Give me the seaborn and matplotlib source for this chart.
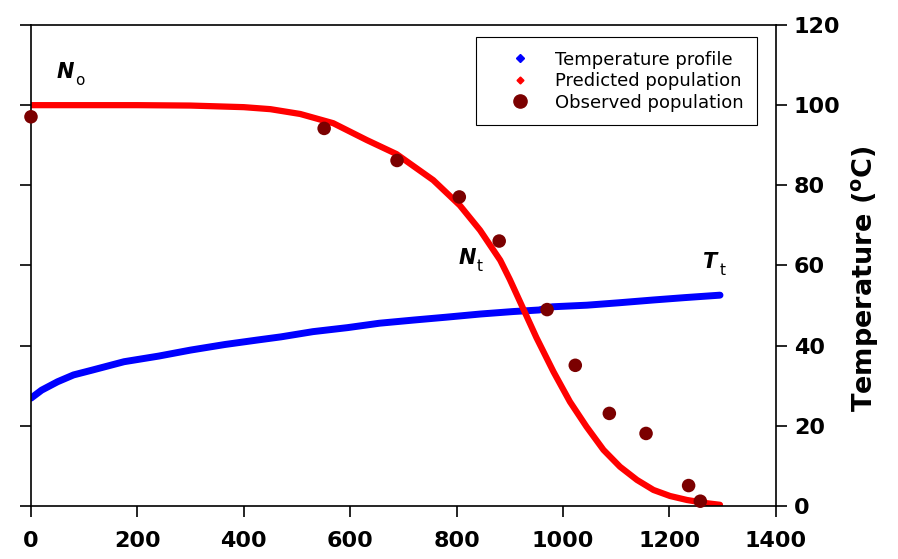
import matplotlib
matplotlib.use("Agg")
import matplotlib.pyplot as plt
from matplotlib.lines import Line2D
import seaborn as sns
import pandas as pd

# ---- data ----
time_temp = [0, 20, 50, 80, 115, 175, 240, 300, 365, 425, 470, 530, 595, 655,
             720, 780, 845, 905, 955, 980, 1045, 1105, 1170, 1230, 1295]
temperature = [26.9, 28.9, 31.0, 32.7, 33.9, 36.0, 37.4, 38.9, 40.3, 41.4, 42.2,
               43.5, 44.5, 45.6, 46.4, 47.1, 47.9, 48.5, 48.9, 49.7, 50.1, 50.7,
               51.4, 52.0, 52.6]

time_pred = [0, 100, 200, 300, 400, 450, 506, 568, 631, 687, 756, 806, 844, 882,
             900, 919, 950, 982, 1013, 1044, 1076, 1107, 1139, 1170, 1201, 1233,
             1270, 1295]
predicted = [100, 100, 100, 99.9, 99.5, 99.0, 97.8, 95.5, 91.3, 87.8, 81.3, 75.0,
             68.8, 61.3, 56.5, 51.0, 42.0, 33.5, 26.0, 19.8, 14.0, 9.8, 6.5, 4.0,
             2.5, 1.5, 0.7, 0.3]

time_obs = [0, 551, 688, 805, 880, 970, 1023, 1087, 1156, 1236, 1258]
observed = [97.1, 94.2, 86.2, 77.1, 66.1, 49.0, 35.1, 23.1, 18.1, 5.1, 1.2]

x_ticks = [0, 200, 400, 600, 800, 1000, 1200, 1400]
y_ticks = [0, 20, 40, 60, 80, 100, 120]

labels = ["Temperature profile", "Predicted population", "Observed population"]

# ---- figure ----
sns.set_style("white")
plt.rcParams["font.family"] = ["DejaVu Sans"]
plt.rcParams["text.color"] = "black"
plt.rcParams["axes.labelcolor"] = "black"

fig = plt.figure(figsize=(8.98, 5.59), dpi=100)
ax = fig.add_axes([0.0345, 0.0948, 0.8295, 0.8605])

df_t = pd.DataFrame({"t": time_temp, "v": temperature})
df_p = pd.DataFrame({"t": time_pred, "v": predicted})
df_o = pd.DataFrame({"t": time_obs, "v": observed})

sns.lineplot(data=df_t, x="t", y="v", ax=ax, color="#0000ff", linewidth=5,
             sort=False, estimator=None, solid_capstyle="round",
             solid_joinstyle="round", legend=False)
sns.lineplot(data=df_p, x="t", y="v", ax=ax, color="#ff0000", linewidth=4.5,
             sort=False, estimator=None, solid_capstyle="round",
             solid_joinstyle="round", legend=False)
sns.scatterplot(data=df_o, x="t", y="v", ax=ax, color="#7b0000", s=95,
                edgecolor="none", legend=False, clip_on=False, zorder=5)

ax.set_xlim(0, 1400)
ax.set_ylim(0, 120)
ax.set_xticks(x_ticks)
ax.set_yticks(y_ticks)
ax.set_xlabel("")
ax.set_ylabel("Temperature ($^{\\mathregular{o}}$C)", fontsize=19.5, fontweight="bold",
              color="black")
ax.yaxis.set_label_position("right")
ax.yaxis.set_label_coords(1.098, 0.472)

for s in ax.spines.values():
    s.set_visible(True)
    s.set_color("black")
    s.set_linewidth(1.2)

ax.tick_params(axis="both", direction="out", length=8, width=1.2, color="black",
               labelsize=16, labelcolor="black")
ax.tick_params(axis="y", left=True, right=True, labelleft=False, labelright=True,
               pad=5)
ax.tick_params(axis="x", bottom=True, pad=10)
for lab in ax.get_xticklabels() + ax.get_yticklabels():
    lab.set_fontweight("bold")

# annotations N_o, N_t, T_t
def sub_label(x, y, main, sub):
    ax.text(x, y, main, fontsize=15, fontweight="bold", fontstyle="italic",
            ha="center", va="center", color="black")
    ax.annotate(sub, xy=(x, y), xytext=(7, -6), textcoords="offset points",
                fontsize=11, ha="left", va="center", color="black")

sub_label(64, 108.2, "N", "o")
sub_label(820, 61.8, "N", "t")
sub_label(1276, 60.8, "T", "t")

handles = [
    Line2D([], [], linestyle="none", marker="D", markersize=4, color="#0000ff"),
    Line2D([], [], linestyle="none", marker="D", markersize=3.5, color="#ff0000"),
    Line2D([], [], linestyle="none", marker="o", markersize=9.5, color="#7b0000"),
]
leg = ax.legend(handles, labels, loc="upper right", bbox_to_anchor=(0.9745, 0.975),
                fontsize=13, frameon=True, fancybox=False, edgecolor="black",
                framealpha=1, handletextpad=0.3, borderpad=0.75, labelspacing=0.2,
                handlelength=3.3, borderaxespad=0)
leg.get_frame().set_linewidth(0.8)
for t in leg.get_texts():
    t.set_color("black")

fig.savefig("out.png", dpi=100)
